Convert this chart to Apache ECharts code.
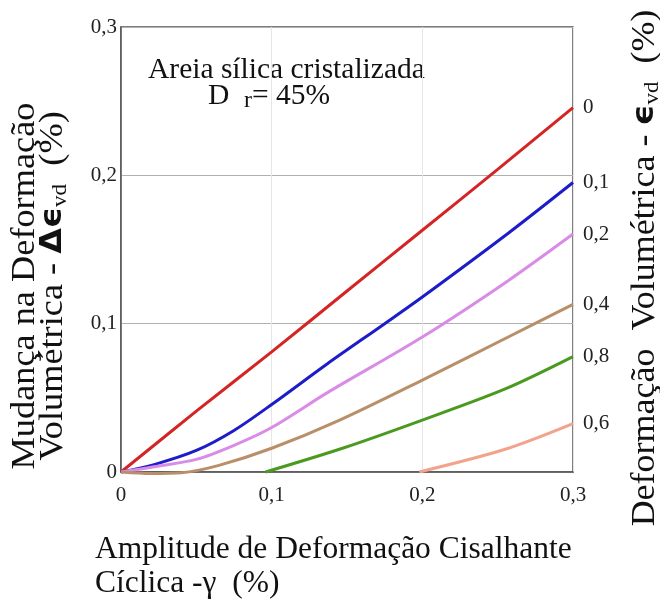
<!DOCTYPE html>
<html>
<head>
<meta charset="utf-8">
<script src="https://cdn.jsdelivr.net/npm/echarts@6/dist/echarts.min.js"></script>
<style>
  html, body { margin: 0; padding: 0; background: #fff; }
  #chart { width: 660px; height: 601px; }
</style>
</head>
<body>
<div id="chart"></div>
<script>
var chart = echarts.init(document.getElementById('chart'));

// 轴刻度
var xTicks = [0, 0.1, 0.2, 0.3];
var yTicks = [0, 0.1, 0.2, 0.3];

// 每条曲线的名称 (右侧标注) 和读取的数据点 [γ, Δε]
var names = ['0', '0,1', '0,2', '0,4', '0,8', '0,6'];
var colors = ['#d42424', '#1c1cc8', '#d98ce6', '#b88f68', '#4b9a20', '#f2a38c'];

var curve0 = [[0, 0], [0.05, 0.041], [0.1, 0.081], [0.15, 0.122], [0.2, 0.163], [0.25, 0.204], [0.3, 0.2456]];
var curve01 = [[0, 0], [0.022, 0.005], [0.05, 0.0145], [0.075, 0.028], [0.1, 0.0455], [0.137, 0.073], [0.175, 0.1], [0.2, 0.118], [0.257, 0.161], [0.3, 0.1952]];
var curve02 = [[0, 0], [0.022, 0.0035], [0.05, 0.0085], [0.075, 0.018], [0.1, 0.030], [0.137, 0.0535], [0.2, 0.091], [0.257, 0.129], [0.3, 0.1604]];
var curve04 = [[0, 0], [0.02, -0.001], [0.04, -0.0005], [0.065, 0.0045], [0.1, 0.016], [0.144, 0.0345], [0.2, 0.062], [0.257, 0.091], [0.3, 0.113]];
var curve08 = [[0.096, 0], [0.147, 0.016], [0.2, 0.035], [0.255, 0.056], [0.3, 0.0778]];
var curve06 = [[0.198, 0], [0.255, 0.0153], [0.3, 0.0326]];

var curves = [curve0, curve01, curve02, curve04, curve08, curve06];

var serif = 'Liberation Serif';

function fmt(v) {
    return v === 0 ? '0' : String(v).replace('.', ',');
}

var series = curves.map(function (d, i) {
    return {
        name: names[i],
        type: 'line',
        data: d,
        smooth: 0.3,
        showSymbol: false,
        clip: false,
        lineStyle: { color: colors[i], width: 3 },
        endLabel: {
            show: true,
            formatter: '{a}',
            distance: 10,
            fontFamily: serif,
            fontSize: 21,
            color: '#222'
        }
    };
});

var option = {
    animation: false,
    backgroundColor: '#fff',
    grid: {
        left: 121,
        top: 27,
        right: 87,
        bottom: 129,
        show: true,
        borderColor: '#555',
        borderWidth: 1.5
    },
    xAxis: {
        type: 'value',
        min: 0,
        max: 0.3,
        interval: 0.1,
        axisLine: { lineStyle: { color: '#555', width: 1.5 } },
        axisTick: { show: false },
        splitLine: { lineStyle: { color: '#e6e6e6', width: 1 } },
        axisLabel: {
            margin: 13,
            fontFamily: serif,
            fontSize: 21,
            color: '#222',
            formatter: function (v) { return xTicks.indexOf(v) >= 0 ? fmt(v) : ''; }
        }
    },
    yAxis: {
        type: 'value',
        min: 0,
        max: 0.3,
        interval: 0.1,
        axisLine: { show: true, lineStyle: { color: '#555', width: 1.5 } },
        axisTick: { show: false },
        splitLine: { lineStyle: { color: '#b0b0b0', width: 1 } },
        axisLabel: {
            margin: 4,
            fontFamily: serif,
            fontSize: 21,
            color: '#222',
            formatter: function (v) { return yTicks.indexOf(v) >= 0 ? fmt(v) : ''; }
        }
    },
    graphic: [
        {
            type: 'text',
            left: 148,
            top: 55,
            style: {
                text: 'Areia sílica cristalizada',
                font: '29.5px "Liberation Serif"',
                fill: '#111'
            }
        },
        {
            type: 'text',
            left: 208,
            top: 81,
            style: {
                text: '{a|D  }{s|r}{a|= 45%}',
                rich: {
                    a: { font: '29.5px "Liberation Serif"', fill: '#111' },
                    s: { font: '24px "Liberation Serif"', fill: '#111', padding: [10, 0, 0, 0] }
                },
                fill: '#111'
            }
        },
        {
            type: 'text',
            x: 95,
            y: 533,
            style: {
                text: 'Amplitude de Deformação Cisalhante\nCíclica -γ  (%)',
                font: '31.5px "Liberation Serif"',
                lineHeight: 34,
                fill: '#111'
            }
        },
        {
            type: 'text',
            x: 25,
            y: 286,
            rotation: Math.PI / 2,
            scaleX: 1.1,
            style: {
                text: 'Mudança na Deformação',
                font: '33px "Liberation Serif"',
                textAlign: 'center',
                textVerticalAlign: 'middle',
                fill: '#111'
            }
        },
        {
            type: 'text',
            x: 53,
            y: 286,
            rotation: Math.PI / 2,
            scaleX: 1.1,
            style: {
                text: '{a|Volumétrica - }{b|Δϵ}{s|vd}{a|  (%)}',
                rich: {
                    a: { font: '33px "Liberation Serif"', fill: '#111' },
                    b: { font: 'bold 30px "DejaVu Sans"', fill: '#111' },
                    s: { font: '21px "Liberation Serif"', fill: '#111', padding: [14, 0, 0, 0] }
                },
                textAlign: 'center',
                textVerticalAlign: 'middle'
            }
        },
        {
            type: 'text',
            x: 645,
            y: 268,
            rotation: Math.PI / 2,
            scaleX: 1.09,
            style: {
                text: '{a|Deformação  Volumétrica - }{b|ϵ}{s|vd}{a|  (%)}',
                rich: {
                    a: { font: '33px "Liberation Serif"', fill: '#111' },
                    b: { font: 'bold 30px "DejaVu Sans"', fill: '#111' },
                    s: { font: '21px "Liberation Serif"', fill: '#111', padding: [14, 0, 0, 0] }
                },
                textAlign: 'center',
                textVerticalAlign: 'middle'
            }
        }
    ],
    series: series
};

chart.setOption(option);
</script>
</body>
</html>
